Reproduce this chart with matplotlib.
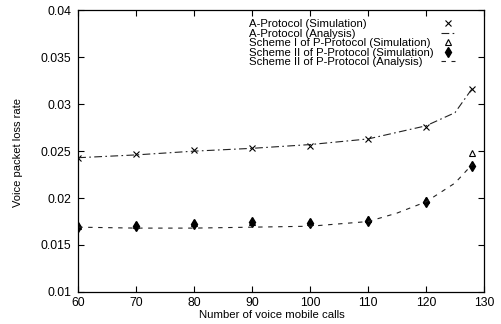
import numpy as np
import matplotlib
matplotlib.use("Agg")
import matplotlib.pyplot as plt

plt.rcParams['font.family'] = ['Liberation Sans', 'DejaVu Sans']

# --- data ---
calls = [60, 70, 80, 90, 100, 110, 120, 128]
a_sim = [0.0243, 0.0247, 0.0251, 0.0253, 0.0256, 0.0263, 0.0276, 0.0316]
s1_sim = [0.0170, 0.0171, 0.0173, 0.0175, 0.0174, 0.0178, 0.0198, 0.0248]
s2_sim = [0.0169, 0.0170, 0.0172, 0.0174, 0.0173, 0.0176, 0.0196, 0.0234]

calls_an = [60, 70, 80, 90, 100, 110, 115, 120, 125, 128]
a_an = [0.0243, 0.0246, 0.0250, 0.0253, 0.0257, 0.0263, 0.0270, 0.0277, 0.0291, 0.0317]
s2_an = [0.0169, 0.0168, 0.0168, 0.0169, 0.0170, 0.0175, 0.0184, 0.0196, 0.0216, 0.0236]

xticks = [60, 70, 80, 90, 100, 110, 120, 130]
yticks = [0.01, 0.015, 0.02, 0.025, 0.03, 0.035, 0.04]
ytick_labels = ["0.01", "0.015", "0.02", "0.025", "0.03", "0.035", "0.04"]
labels = ["A-Protocol (Simulation)", "A-Protocol (Analysis)",
          "Scheme I of P-Protocol (Simulation)", "Scheme II of P-Protocol (Simulation)",
          "Scheme II of P-Protocol (Analysis)"]

fig = plt.figure(figsize=(5.01, 3.24), dpi=100)
ax = fig.add_axes([0.156, 0.099, 0.81, 0.869])

h1, = ax.plot(calls, a_sim, linestyle="none", marker="x", markersize=4, color="black",
              markeredgewidth=0.8)
h2, = ax.plot(calls_an, a_an, linestyle=(0, (7, 3, 1.5, 3)), linewidth=0.8, color="#222222")
h3, = ax.plot(calls, s1_sim, linestyle="none", marker="^", markersize=4, color="black",
              markerfacecolor="white", markeredgewidth=0.8)
h4, = ax.plot(calls, s2_sim, linestyle="none", marker="d", markersize=5, color="black")
h5, = ax.plot(calls_an, s2_an, linestyle=(0, (4, 5)), linewidth=0.8, color="#222222")
handles = [h1, h2, h3, h4, h5]

ax.set_xlim(60, 130)
ax.set_ylim(0.01, 0.04)
ax.set_xticks(xticks)
ax.set_yticks(yticks)
ax.set_yticklabels(ytick_labels)
ax.tick_params(direction="in", length=4, width=0.8, top=True, right=True, labelsize=8.8)
ax.tick_params(axis="y", pad=5)
ax.tick_params(axis="x", pad=3.5)
for s in ax.spines.values():
    s.set_linewidth(0.9)

ax.set_xlabel("Number of voice mobile calls", fontsize=8.2)
ax.set_ylabel("Voice packet loss rate", fontsize=8)
ax.xaxis.set_label_coords(0.478, -0.065)
ax.yaxis.set_label_coords(-0.135, 0.496)

# legend: left-aligned labels with samples in a column on the right
leg_text = ax.legend([plt.Line2D([], [], linestyle="none")] * 5, labels, loc="upper left",
                     bbox_to_anchor=(0.42, 0.968), frameon=False, fontsize=8.2,
                     handlelength=0, handletextpad=0, labelspacing=-0.05,
                     borderpad=0, borderaxespad=0)
ax.add_artist(leg_text)
ax.legend(handles, [" "] * 5, loc="upper left", bbox_to_anchor=(0.895, 0.968),
          frameon=False, fontsize=8.2, handlelength=1.2, handletextpad=0,
          labelspacing=-0.05, borderpad=0, borderaxespad=0)

fig.savefig("out.png", dpi=100)
